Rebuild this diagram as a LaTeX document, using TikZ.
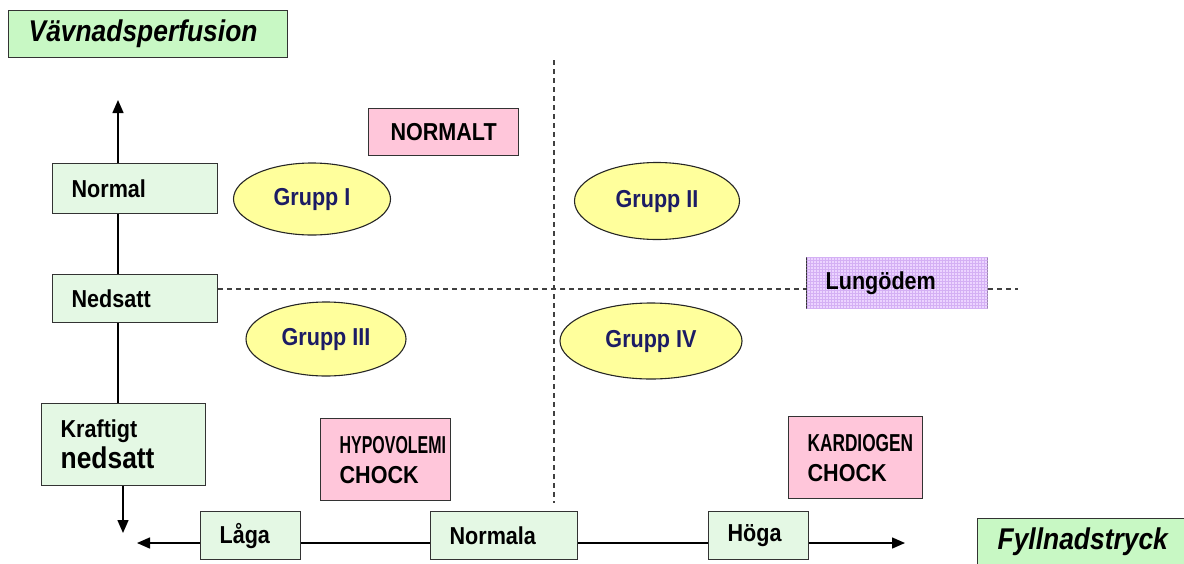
\documentclass[tikz,border=0pt]{standalone}
\usepackage{fontspec}
\setmainfont[FakeStretch=0.88]{Liberation Sans}
\usetikzlibrary{arrows.meta,shapes.geometric,patterns}
\definecolor{axgreen}{HTML}{E4F8E4}
\definecolor{titlegreen}{HTML}{C8F8C4}
\definecolor{pinkfill}{HTML}{FFC6DA}
\definecolor{yelfill}{HTML}{FFFF9C}
\definecolor{navytext}{HTML}{1C1C64}
\definecolor{lilac}{HTML}{ECD4FF}
\definecolor{lilacgrid}{HTML}{D4B0F4}
\tikzset{
  basebox/.style={draw=black!80, line width=1.3pt, anchor=north west, align=left,
    inner xsep=19pt, inner ysep=0pt, font=\fontsize{24.5}{30}\selectfont\bfseries},
  axbox/.style={basebox, fill=axgreen},
  pinkbox/.style={basebox, fill=pinkfill},
  titlebox/.style={basebox, fill=titlegreen, inner xsep=20pt,
    font=\fontsize{30}{32}\selectfont\bfseries\itshape},
  grp/.style={ellipse, draw=black!85, line width=1.1pt, fill=yelfill, text=navytext,
    inner sep=0pt, font=\fontsize{24.5}{30}\selectfont\bfseries},
  axline/.style={line width=1.5pt, black},
  axarrow/.style={axline, -{Triangle[length=13pt,width=11pt]}},
  dline/.style={line width=1.1pt, black!75, dash pattern=on 5pt off 4pt}
}
\begin{document}
\begin{tikzpicture}[x=1pt,y=-1pt]
\useasboundingbox (0,0) rectangle (1184,563);
% title boxes
\node[titlebox, minimum width=279pt, minimum height=47pt, text width=239pt] (vav) at (8,10) {Vävnadsperfusion};
\node[titlebox, minimum width=207pt, minimum height=46pt, text width=170pt] (fyll) at (977,518) {Fyllnadstryck};
% dashed quadrant lines
\coordinate (vdtop) at (554,60);
\coordinate (vdbot) at (554,503);
\draw[dline] (vdtop) -- (vdbot);
% vertical axis boxes
\node[axbox, minimum width=165pt, minimum height=50pt, text width=127pt] (normal) at (52,163) {Normal};
\node[axbox, minimum width=165pt, minimum height=48pt, text width=127pt] (nedsatt) at (52,274) {Nedsatt};
\node[axbox, minimum width=164pt, minimum height=82pt, text width=126pt,
  font=\fontsize{24.5}{31}\selectfont\bfseries] (kraft) at (41,403) {Kraftigt\\{\fontsize{30}{31}\selectfont nedsatt}};
% horizontal axis boxes
\node[axbox, minimum width=100pt, minimum height=48pt, text width=62pt] (laga) at (200,511) {Låga};
\node[axbox, minimum width=147pt, minimum height=48pt, text width=109pt] (normala) at (430,511) {Normala};
\node[axbox, minimum width=100pt, minimum height=48pt, text width=62pt] (hoga) at (708,511) {Höga};
% other boxes
\node[pinkbox, minimum width=150pt, minimum height=47pt, text width=112pt, align=center] (normalt) at (368,108) {NORMALT};
\node[pinkbox, minimum width=130pt, minimum height=82pt, text width=92pt] (hypo) at (320,418) {\scalebox{0.74}[1]{HYPOVOLEMI}\\CHOCK};
\node[pinkbox, minimum width=134pt, minimum height=82pt, text width=96pt] (kardio) at (788,416) {\scalebox{0.8}[1]{KARDIOGEN}\\CHOCK};
\node[basebox, fill=lilac, postaction={pattern=grid, pattern color=lilacgrid},
  minimum width=181pt, minimum height=51pt, text width=143pt] (lung) at (806,257) {Lungödem};
% group ellipses
\node[grp, minimum width=157pt, minimum height=72pt] (g1) at (312,199) {Grupp I};
\node[grp, minimum width=165pt, minimum height=77pt] (g2) at (657,201) {Grupp II};
\node[grp, minimum width=160pt, minimum height=74pt] (g3) at (326,339) {Grupp III};
\node[grp, minimum width=182pt, minimum height=76pt] (g4) at (651,341) {Grupp IV};
% dashed horizontal line
\coordinate (hd) at (1018,289);
\draw[dline] (nedsatt.east |- hd) -- (lung.west |- hd);
\draw[dline] (lung.east |- hd) -- (hd);
% vertical axis
\coordinate (vtop) at (118,100);
\draw[axarrow] (normal.north -| vtop) -- (vtop);
\draw[axline] (normal.south -| vtop) -- (nedsatt.north -| vtop);
\draw[axline] (nedsatt.south -| vtop) -- (kraft.north -| vtop);
\coordinate (vbot) at (123,533);
\draw[axarrow] (kraft.south -| vbot) -- (vbot);
% horizontal axis
\coordinate (hleft) at (137,543);
\coordinate (hright) at (905,543);
\draw[axarrow] (laga.west |- hleft) -- (hleft);
\draw[axline] (laga.east |- hleft) -- (normala.west |- hleft);
\draw[axline] (normala.east |- hleft) -- (hoga.west |- hleft);
\draw[axarrow] (hoga.east |- hleft) -- (hright);
\end{tikzpicture}
\end{document}
